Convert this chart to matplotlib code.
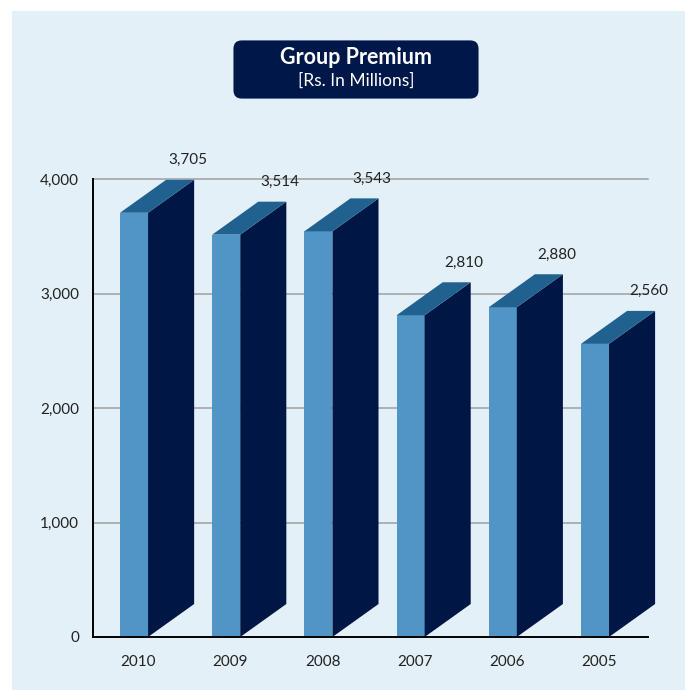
import matplotlib

matplotlib.use("Agg")
import matplotlib.pyplot as plt
from matplotlib.patches import Polygon, Rectangle, FancyBboxPatch

years = ["2010", "2009", "2008", "2007", "2006", "2005"]
premium = [3705, 3514, 3543, 2810, 2880, 2560]
value_labels = ["3,705", "3,514", "3,543", "2,810", "2,880", "2,560"]
yticks = [0, 1000, 2000, 3000, 4000]
ytick_labels = ["0", "1,000", "2,000", "3,000", "4,000"]

FRONT = "#5095c6"
SIDE = "#001746"
TOP = "#21618f"
NAVY = "#00174a"
BG = "#e4f0f8"
W, H = 685, 690

plt.rcParams["font.family"] = ["Lato", "DejaVu Sans"]

fig = plt.figure(figsize=(W / 100, H / 100), dpi=100, facecolor="white")
fig.patches.append(Rectangle((12 / W, 0), 1, (H - 11) / H, transform=fig.transFigure,
                             facecolor=BG, edgecolor="none", zorder=-10))

# title box
fig.patches.append(FancyBboxPatch((241 / W, (H - 91) / H), 230 / W, 43 / H,
                                  boxstyle="round,pad=0.011,rounding_size=0.012",
                                  transform=fig.transFigure, facecolor=NAVY,
                                  edgecolor="none", zorder=1))
fig.text(356 / W, (H - 58) / H, "Group Premium", color="white", fontsize=15.5,
         fontweight="bold", ha="center", va="center")
fig.text(356 / W, (H - 81) / H, "[Rs. In Millions]", color="white", fontsize=12.5,
         ha="center", va="center")

ax = fig.add_axes([93 / W, 53 / H, 555 / W, 458 / H])
ax.set_facecolor("none")
ax.set_xlim(-0.445, 5.575)
ax.set_ylim(0, 4000)

half = 0.152   # half width of front face
dx = 0.5       # depth offset (x, data units)
dy = 288       # depth offset (y, data units)

for i, v in enumerate(premium):
    x0, x1 = i - half, i + half
    ax.add_patch(Polygon([(x0, 0), (x1, 0), (x1, v), (x0, v)], closed=True,
                         facecolor=FRONT, edgecolor="none", zorder=3, clip_on=False))
    ax.add_patch(Polygon([(x1, 0), (x1 + dx, dy), (x1 + dx, v + dy), (x1, v)], closed=True,
                         facecolor=SIDE, edgecolor="none", zorder=3, clip_on=False))
    ax.add_patch(Polygon([(x0, v), (x1, v), (x1 + dx, v + dy), (x0 + dx, v + dy)],
                         closed=True, facecolor=TOP, edgecolor="none", zorder=3,
                         clip_on=False))
    ax.text(x1 + dx - 0.07, v + dy + 110, value_labels[i], ha="center", va="bottom",
            fontsize=11, color="#222222", zorder=4)

for y in yticks[1:]:
    ax.axhline(y, color="#a0a0a0", lw=1.1, zorder=1, clip_on=False)

ax.set_yticks(yticks)
ax.set_yticklabels(ytick_labels)
ax.set_xticks([i + 0.045 for i in range(len(years))])
ax.set_xticklabels(years)
ax.tick_params(axis="both", length=0, labelsize=11, colors="#222222")
ax.tick_params(axis="y", pad=10)
ax.tick_params(axis="x", pad=13)

for s in ("top", "right"):
    ax.spines[s].set_visible(False)
ax.spines["left"].set_linewidth(1.4)
ax.spines["bottom"].set_linewidth(1.4)
ax.spines["left"].set_zorder(5)
ax.spines["bottom"].set_zorder(5)

fig.savefig("out.png", dpi=100, facecolor="white")
